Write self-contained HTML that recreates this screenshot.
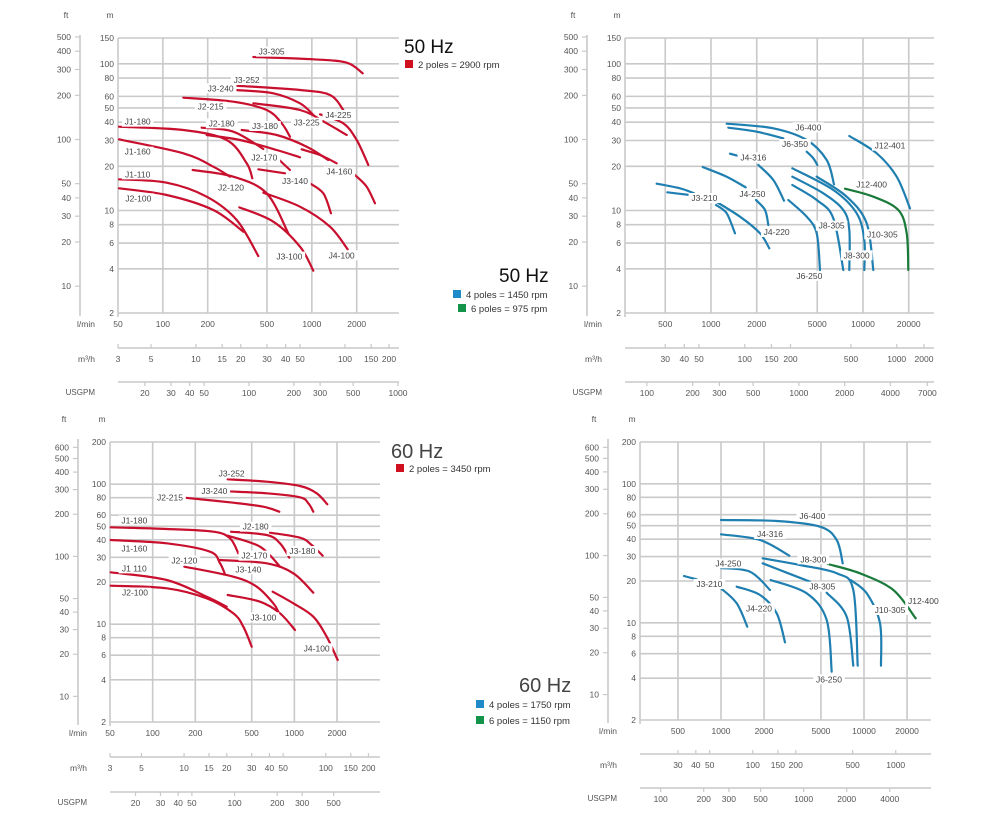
<!DOCTYPE html>
<html><head><meta charset="utf-8">
<style>
html,body{margin:0;padding:0;background:#fff;}
svg{display:block;font-family:"Liberation Sans",sans-serif;}
.t{font-size:8.5px;fill:#555;}
.lb{font-size:8.5px;fill:#444;}
</style></head>
<body>
<svg id="s" width="992" height="818" viewBox="0 0 992 818" xmlns="http://www.w3.org/2000/svg"></svg>
<script>
var S=document.getElementById('s'),out='';
function L(a){return Math.log(a)/Math.LN10;}
var GC='#c9c9c9';
function line(x1,y1,x2,y2,c,w){out+='<line x1="'+x1+'" y1="'+y1+'" x2="'+x2+'" y2="'+y2+'" stroke="'+(c||GC)+'" stroke-width="'+(w||1.6)+'"/>';}
function txt(x,y,s,cls,anc,extra){out+='<text x="'+x+'" y="'+y+'" class="'+(cls||'t')+'" text-anchor="'+(anc||'start')+'" '+(extra||'')+'>'+s+'</text>';}
function panel(p){
  var X=function(q){return p.xa+p.k*L(q/p.qa);};
  var Y=function(h){return p.yt+(p.yb-p.yt)*L(p.ht/h)/L(p.ht/p.hb);};
  p.hg.forEach(function(h){var y=Y(h);line(p.x0,y,p.x1,y);txt(p.x0-4,y+3,h,'t','end');});
  line(p.x0,p.yt,p.x0,p.yb+4);
  p.vg.forEach(function(q){line(X(q),p.yt,X(q),p.yb);});
  line(p.fx,p.yt-3,p.fx,p.yb+3,GC,1.6);
  p.ft.forEach(function(f){var y=Y(f*0.3048);line(p.fx-5,y,p.fx,y,GC,1.2);txt(p.fx-9,y+3,f,'t','end');});
  txt(p.fx-14,p.yt-20,'ft','t','middle');txt(p.x0-8,p.yt-20,'m','t','middle');
  txt(p.x0-23,p.yb+14,'l/min','t','end');
  p.lm.forEach(function(q){txt(X(q),p.yb+14,q,'t','middle');});
  line(p.x0,p.my,p.x1,p.my);
  txt(p.x0-23,p.my+14,'m³/h','t','end');
  p.m3.forEach(function(q){var x=Math.min(X(q*1000/60),p.x1-10);line(x,p.my-4,x,p.my,GC,1.2);txt(x,p.my+14,q,'t','middle');});
  line(p.x0,p.uy,p.x1,p.uy);
  txt(p.x0-23,p.uy+13,'USGPM','t','end','style="font-size:8px"');
  p.us.forEach(function(q){var x=X(q*3.785);line(x,p.uy,x,p.uy+4,GC,1.2);txt(x,p.uy+14,q,'t','middle');});
  p.cv.forEach(function(c){
    var pts=c[1].map(function(a){return [p.ox+a[0]/3,p.oy+a[1]/3];});
    var d='M'+pts[0][0]+','+pts[0][1];
    for(var i=0;i<pts.length-1;i++){
      var p0=pts[i>0?i-1:0],p1=pts[i],p2=pts[i+1],p3=pts[i+2<pts.length?i+2:i+1];
      var c1=[p1[0]+(p2[0]-p0[0])/6,p1[1]+(p2[1]-p0[1])/6],c2=[p2[0]-(p3[0]-p1[0])/6,p2[1]-(p3[1]-p1[1])/6];
      d+=' C'+c1[0].toFixed(1)+','+c1[1].toFixed(1)+' '+c2[0].toFixed(1)+','+c2[1].toFixed(1)+' '+p2[0].toFixed(1)+','+p2[1].toFixed(1);
    }
    out+='<path d="'+d+'" fill="none" stroke="'+c[0]+'" stroke-width="2.2" stroke-linecap="round"/>';
  });
  p.lb.forEach(function(l){
    var x=p.ox+l[1]/3,y=p.oy+l[2]/3,w=l[0].length*4.6+4;
    out+='<rect x="'+(x-w/2)+'" y="'+(y-5)+'" width="'+w+'" height="10" fill="#fff"/>';
    txt(x,y+3,l[0],'lb','middle');
  });
}
var R='#c8102e',B='#1f7fb0',G='#1a7a3a';
panel({x0:118,x1:399,yt:38,yb:313,ht:150,hb:2,xa:118,qa:50,k:149,fx:80,my:348,uy:382,ox:0,oy:0,
 hg:[150,100,80,60,50,40,30,20,10,8,6,4,2],vg:[100,200,500,1000,2000],
 ft:[500,400,300,200,100,50,40,30,20,10],lm:[50,100,200,500,1000,2000],
 m3:[3,5,10,15,20,30,40,50,100,150,200],us:[20,30,40,50,100,200,300,500,1000],
 cv:[[R,[[760,171],[940,178],[1040,188],[1088,220]]],
 [R,[[707,257],[900,270],[990,285],[1030,330]]],
 [R,[[707,270],[820,280],[900,310],[940,345]]],
 [R,[[550,293],[700,305],[800,330],[845,370],[870,410]]],
 [R,[[760,310],[900,330],[980,370],[1040,405]]],
 [R,[[960,343],[1030,370],[1070,420],[1105,495]]],
 [R,[[357,380],[550,390],[680,420],[740,490],[757,535]]],
 [R,[[605,383],[700,395],[790,447]]],
 [R,[[725,390],[830,405],[920,440],[985,480]]],
 [R,[[905,448],[960,465],[1010,490]]],
 [R,[[357,418],[550,460],[640,500],[690,530]]],
 [R,[[620,405],[720,420],[830,450],[900,472]]],
 [R,[[578,510],[700,530],[800,580],[865,700]]],
 [R,[[775,508],[855,520]]],
 [R,[[838,480],[870,510]]],
 [R,[[930,550],[970,580],[993,640]]],
 [R,[[1065,525],[1100,560],[1125,610]]],
 [R,[[357,538],[500,548],[620,590],[710,660],[775,768]]],
 [R,[[357,565],[500,585],[640,630],[730,695]]],
 [R,[[718,622],[820,665],[900,740],[940,812]]],
 [R,[[790,578],[900,620],[990,680],[1043,748]]]],
 lb:[['J3-305',815,155],['J3-252',740,240],['J3-240',662,265],['J2-215',632,320],['J1-180',413,365],['J2-180',665,370],['J3-180',795,378],['J3-225',920,368],['J4-225',1015,345],['J1-160',413,455],['J2-170',793,473],['J4-160',1018,515],['J1-110',413,523],['J3-140',885,543],['J2-120',693,563],['J2-100',415,595],['J3-100',868,770],['J4-100',1025,766]]});
panel({x0:625,x1:934,yt:38,yb:313,ht:150,hb:2,xa:711,qa:1000,k:152,fx:587,my:348,uy:382,ox:540,oy:0,
 hg:[150,100,80,60,50,40,30,20,10,8,6,4,2],vg:[500,1000,2000,5000,10000,20000],
 ft:[500,400,300,200,100,50,40,30,20,10],lm:[500,1000,2000,5000,10000,20000],
 m3:[30,40,50,100,150,200,500,1000,2000],us:[100,200,300,500,1000,2000,4000,7000],
 cv:[[B,[[560,371],[700,385],[800,420],[860,480],[882,553]]],
 [B,[[565,383],[650,395],[730,415]]],
 [B,[[800,455],[820,475],[832,495]]],
 [B,[[928,408],[1010,460],[1070,530],[1110,625]]],
 [B,[[570,461],[605,470]]],
 [B,[[488,501],[560,530],[617,562]]],
 [B,[[655,495],[700,540],[732,602]]],
 [B,[[350,551],[420,565],[462,580]]],
 [B,[[382,577],[450,585]]],
 [B,[[528,615],[560,640],[585,700]]],
 [B,[[520,600],[600,650],[660,700],[688,745]]],
 [B,[[648,600],[675,630],[685,675]]],
 [B,[[745,600],[800,650],[830,700],[840,810]]],
 [B,[[757,555],[830,600],[880,655],[910,810]]],
 [B,[[757,530],[850,580],[910,630],[928,690],[928,810]]],
 [B,[[757,505],[880,570],[950,640],[973,720],[973,810]]],
 [B,[[830,530],[920,590],[980,670],[1000,810]]],
 [G,[[915,566],[1000,590],[1075,630],[1100,700],[1105,810]]]],
 lb:[['J6-400',805,382],['J6-350',765,432],['J12-401',1050,437],['J4-316',640,472],['J12-400',995,553],['J4-250',637,582],['J3-210',493,594],['J8-305',875,677],['J4-220',710,696],['J10-305',1027,703],['J8-300',950,766],['J6-250',808,828]]});
panel({x0:110,x1:380,yt:442,yb:722,ht:200,hb:2,xa:110,qa:50,k:141.7,fx:78,my:757,uy:792,ox:0,oy:410,
 hg:[200,100,80,60,50,40,30,20,10,8,6,4,2],vg:[100,200,500,1000,2000],
 ft:[600,500,400,300,200,100,50,40,30,20,10],lm:[50,100,200,500,1000,2000],
 m3:[3,5,10,15,20,30,40,50,100,150,200],us:[20,30,40,50,100,200,300,500],
 cv:[[R,[[683,208],[800,215],[900,228],[950,250],[982,283]]],
 [R,[[683,244],[800,250],[900,262],[925,280],[940,305]]],
 [R,[[553,263],[700,278],[790,290],[838,305]]],
 [R,[[332,352],[500,357],[640,365],[690,385],[715,430]]],
 [R,[[693,365],[800,375],[840,400],[868,443]]],
 [R,[[810,368],[900,383],[935,405],[968,437]]],
 [R,[[332,390],[500,400],[630,425],[660,460],[675,493]]],
 [R,[[683,377],[780,410],[840,470]]],
 [R,[[660,450],[800,460],[880,490],[940,548]]],
 [R,[[553,470],[700,500],[770,530],[820,580],[835,605]]],
 [R,[[332,487],[500,510],[620,560],[680,590]]],
 [R,[[332,527],[500,535],[620,565],[700,610],[730,650],[755,710]]],
 [R,[[683,555],[780,575],[840,610],[885,660]]],
 [R,[[818,545],[880,580],[940,620],[980,680],[1013,750]]]],
 lb:[['J3-252',695,190],['J3-240',643,243],['J2-215',510,263],['J1-180',403,331],['J2-180',767,350],['J3-180',907,423],['J1-160',403,415],['J2-170',763,437],['J2-120',553,452],['J3-140',745,478],['J1 110',403,475],['J2-100',405,548],['J3-100',790,622],['J4-100',950,715]]});
panel({x0:640,x1:931,yt:442,yb:720,ht:200,hb:2,xa:721,qa:1000,k:143,fx:608,my:754,uy:788,ox:560,oy:410,
 hg:[200,100,80,60,50,40,30,20,10,8,6,4,2],vg:[500,1000,2000,5000,10000,20000],
 ft:[600,500,400,300,200,100,50,40,30,20,10],lm:[500,1000,2000,5000,10000,20000],
 m3:[30,40,50,100,150,200,500,1000],us:[100,200,300,500,1000,2000,4000],
 cv:[[B,[[483,330],[650,333],[780,350],[830,390],[848,460]]],
 [B,[[483,373],[600,390],[688,437]]],
 [B,[[608,445],[720,465],[830,490],[880,540],[893,767]]],
 [B,[[608,460],[680,488],[750,515]]],
 [B,[[800,548],[860,620],[880,767]]],
 [B,[[483,474],[570,485],[630,540]]],
 [B,[[372,498],[410,508]]],
 [B,[[483,535],[530,580],[562,650]]],
 [B,[[530,530],[600,555],[650,610],[675,697]]],
 [B,[[632,510],[740,550],[800,630],[815,785]]],
 [B,[[872,510],[920,550],[960,640],[963,767]]],
 [G,[[803,462],[900,490],[1000,540],[1067,625]]]],
 lb:[['J6-400',757,318],['J4-316',630,372],['J8-300',760,448],['J4-250',505,460],['J3-210',448,522],['J8-305',787,530],['J12-400',1090,573],['J4-220',597,595],['J10-305',990,600],['J6-250',807,808]]});
function leg(x,y,col,s){out+='<rect x="'+x+'" y="'+(y-8)+'" width="8" height="8" fill="'+col+'"/>';out+='<text x="'+(x+13)+'" y="'+y+'" font-size="9.5" fill="#333">'+s+'</text>';}
out+='<text x="404" y="53" font-size="19" fill="#111">50 Hz</text>';leg(405,68,'#d0101e','2 poles = 2900 rpm');
out+='<text x="499" y="282" font-size="19" fill="#111">50 Hz</text>';leg(453,298,'#1f8ac8','4 poles = 1450 rpm');leg(458,312,'#14934a','6 poles = 975 rpm');
out+='<text x="391" y="458" font-size="20" fill="#444">60 Hz</text>';leg(396,472,'#d0101e','2 poles = 3450 rpm');
out+='<text x="519" y="692" font-size="20" fill="#444">60 Hz</text>';leg(476,708,'#1f8ac8','4 poles = 1750 rpm');leg(476,724,'#14934a','6 poles = 1150 rpm');
S.innerHTML=out;
</script>
</body></html>
